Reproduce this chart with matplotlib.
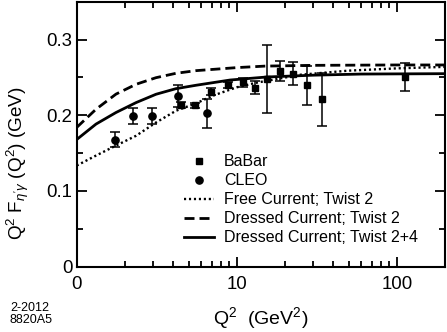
import numpy as np
import matplotlib
matplotlib.use("Agg")
import matplotlib.pyplot as plt
from matplotlib.lines import Line2D
from matplotlib.ticker import FixedLocator, LogLocator, NullFormatter, MultipleLocator

plt.rcParams['font.family'] = ['Liberation Sans', 'DejaVu Sans']
plt.rcParams['mathtext.fontset'] = 'custom'
plt.rcParams['mathtext.rm'] = 'Liberation Sans'
plt.rcParams['mathtext.it'] = 'Liberation Sans:italic'

# %% data

# BaBar (squares)
babar_q2 = [4.49, 5.49, 6.88, 8.87, 11.0, 13.0, 15.4, 18.5, 22.4, 27.6, 34.3, 112.8]
babar_y = [0.2137, 0.2133, 0.2313, 0.2396, 0.2435, 0.2365, 0.2475, 0.2584, 0.2549, 0.2396, 0.2212, 0.2505]
babar_err = [0.004, 0.003, 0.005, 0.004, 0.006, 0.009, 0.045, 0.013, 0.015, 0.026, 0.035, 0.019]

# CLEO (circles)
cleo_q2 = [1.74, 2.24, 2.95, 4.28, 6.56]
cleo_y = [0.1674, 0.1993, 0.1993, 0.2256, 0.2028]
cleo_err = [0.0099, 0.011, 0.011, 0.014, 0.019]

# theory curves
free_q2 = [1, 1.32, 1.76, 2.35, 3.13, 4.17, 5.6, 7.1, 10, 13.3, 25, 50, 100, 200]
free_y = [0.1336, 0.1468, 0.160, 0.173, 0.1905, 0.206, 0.216, 0.226, 0.237, 0.2431, 0.2536, 0.259, 0.262, 0.264]

dressed_q2 = [1, 1.32, 1.76, 2.35, 3.13, 4.17, 5.57, 10, 15, 30, 100, 200]
dressed_y = [0.184, 0.208, 0.228, 0.241, 0.2497, 0.2555, 0.259, 0.263, 0.265, 0.266, 0.2665, 0.2665]

tw24_q2 = [1, 1.32, 1.76, 2.35, 3.13, 4.17, 5.57, 9.08, 15.4, 30, 60, 200]
tw24_y = [0.168, 0.1884, 0.2037, 0.2168, 0.2278, 0.2352, 0.2397, 0.2466, 0.2506, 0.253, 0.2545, 0.255]

xtick_pos = [1, 10, 100]
xtick_labels = ['0', '10', '100']

# %% plot

fig = plt.figure(figsize=(4.47, 3.32), dpi=100)
ax = fig.add_axes([0.1716, 0.1967, 0.8239, 0.798])

l_free, = ax.plot(free_q2, free_y, color='black', lw=1.7, ls=(0, (0.9, 1.2)))
l_dr, = ax.plot(dressed_q2, dressed_y, color='black', lw=2.0, ls=(0, (3.6, 1.8)))
l_tw, = ax.plot(tw24_q2, tw24_y, color='black', lw=2.0)

ax.errorbar(babar_q2, babar_y, yerr=babar_err, fmt='s', color='black', ms=4.8,
            elinewidth=1.1, capsize=3.5, capthick=1.1)
ax.errorbar(cleo_q2, cleo_y, yerr=cleo_err, fmt='o', color='black', ms=5.2,
            elinewidth=1.1, capsize=3.5, capthick=1.1)

ax.set_xscale('log')
ax.set_xlim(1, 200)
ax.set_ylim(0, 0.35)

ax.xaxis.set_major_locator(FixedLocator(xtick_pos))
ax.set_xticklabels(xtick_labels)
ax.xaxis.set_minor_locator(LogLocator(base=10, subs=np.arange(2, 10)))
ax.xaxis.set_minor_formatter(NullFormatter())
ax.yaxis.set_minor_locator(MultipleLocator(0.05))
ax.set_yticks([0, 0.1, 0.2, 0.3])
ax.set_yticklabels(['0', '0.1', '0.2', '0.3'])

ax.tick_params(which='both', direction='in', top=True, right=True, width=1.3, labelsize=13.4)
ax.tick_params(which='major', length=7.5)
ax.tick_params(which='minor', length=4.5)
ax.tick_params(axis='x', pad=7)
ax.tick_params(axis='y', pad=3)
for s in ax.spines.values():
    s.set_linewidth(1.5)

ax.set_xlabel(r'Q$^2$  (GeV$^2$)', fontsize=14)
ax.set_ylabel(r"Q$^2$ F$_{\eta'\gamma}$ (Q$^2$) (GeV)", fontsize=13.6)
ax.xaxis.set_label_coords(0.5, -0.145)
ax.yaxis.set_label_coords(-0.125, 0.39)

m_b = Line2D([], [], ls='none', marker='s', color='black', ms=4.8)
m_c = Line2D([], [], ls='none', marker='o', color='black', ms=5.2)
ax.legend([m_b, m_c, l_free, l_dr, l_tw],
          ['BaBar', 'CLEO', 'Free Current; Twist 2', 'Dressed Current; Twist 2',
           'Dressed Current; Twist 2+4'],
          loc='upper left', bbox_to_anchor=(0.27, 0.455), frameon=False,
          fontsize=11.5, handlelength=1.9, handletextpad=0.6,
          labelspacing=0.25, borderpad=0)

fig.text(0.022, 0.028, '2-2012\n8820A5', fontsize=9, linespacing=0.95)

fig.savefig('out.png', dpi=100)
